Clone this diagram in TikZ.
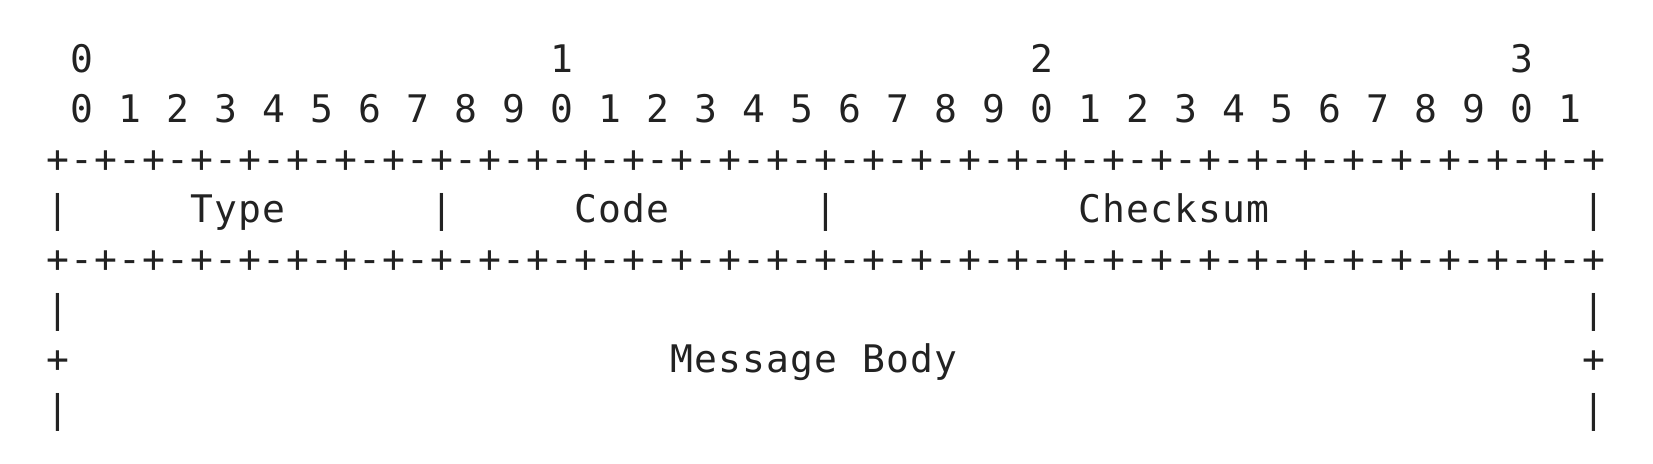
\documentclass[tikz,border=0pt]{standalone}
\usepackage{fontspec}
\newfontfamily\asciifont[LetterSpace=2.95]{DejaVu Sans Mono}
\definecolor{ink}{HTML}{222222}
\begin{document}
\begin{tikzpicture}[x=1pt,y=1pt,
  txt/.style={anchor=base west, inner sep=0pt, outer sep=0pt,
    font=\asciifont\fontsize{19pt}{25pt}\selectfont, text=ink}]
\useasboundingbox (0,0) rectangle (826.5,-231.5);
\def\xo{-0.57}
% row 0: decades
\foreach \t [count=\i from 0] in {0,1,2,3}
  \node[txt] (dec\i) at ({\xo+12*(3+20*\i)},-36.4) {\t};
% row 1: bit numbers
\foreach \i in {0,...,31} {
  \pgfmathtruncatemacro\d{mod(\i,10)}
  \node[txt] (bit\i) at ({\xo+12*(3+2*\i)},-61.4) {\d};
}
% row 2: separator
\node[txt] (sepA) at ({\xo+12*2},-86.4) {+-+-+-+-+-+-+-+-+-+-+-+-+-+-+-+-+-+-+-+-+-+-+-+-+-+-+-+-+-+-+-+-+};
% row 3: fields
\node[txt] (barA) at ({\xo+12*2},-111.4) {|};
\node[txt] (type) at ({\xo+12*8},-111.4) {Type};
\node[txt] (barB) at ({\xo+12*18},-111.4) {|};
\node[txt] (code) at ({\xo+12*24},-111.4) {Code};
\node[txt] (barC) at ({\xo+12*34},-111.4) {|};
\node[txt] (csum) at ({\xo+12*45},-111.4) {Checksum};
\node[txt] (barD) at ({\xo+12*66},-111.4) {|};
% row 4: separator
\node[txt] (sepB) at ({\xo+12*2},-136.4) {+-+-+-+-+-+-+-+-+-+-+-+-+-+-+-+-+-+-+-+-+-+-+-+-+-+-+-+-+-+-+-+-+};
% row 5
\node[txt] (barE) at ({\xo+12*2},-161.4) {|};
\node[txt] (barF) at ({\xo+12*66},-161.4) {|};
% row 6
\node[txt] (plusA) at ({\xo+12*2},-186.4) {+};
\node[txt] (msg) at ({\xo+12*28},-186.4) {Message};
\node[txt] (body) at ({\xo+12*36},-186.4) {Body};
\node[txt] (plusB) at ({\xo+12*66},-186.4) {+};
% row 7
\node[txt] (barG) at ({\xo+12*2},-211.4) {|};
\node[txt] (barH) at ({\xo+12*66},-211.4) {|};
\end{tikzpicture}
\end{document}
